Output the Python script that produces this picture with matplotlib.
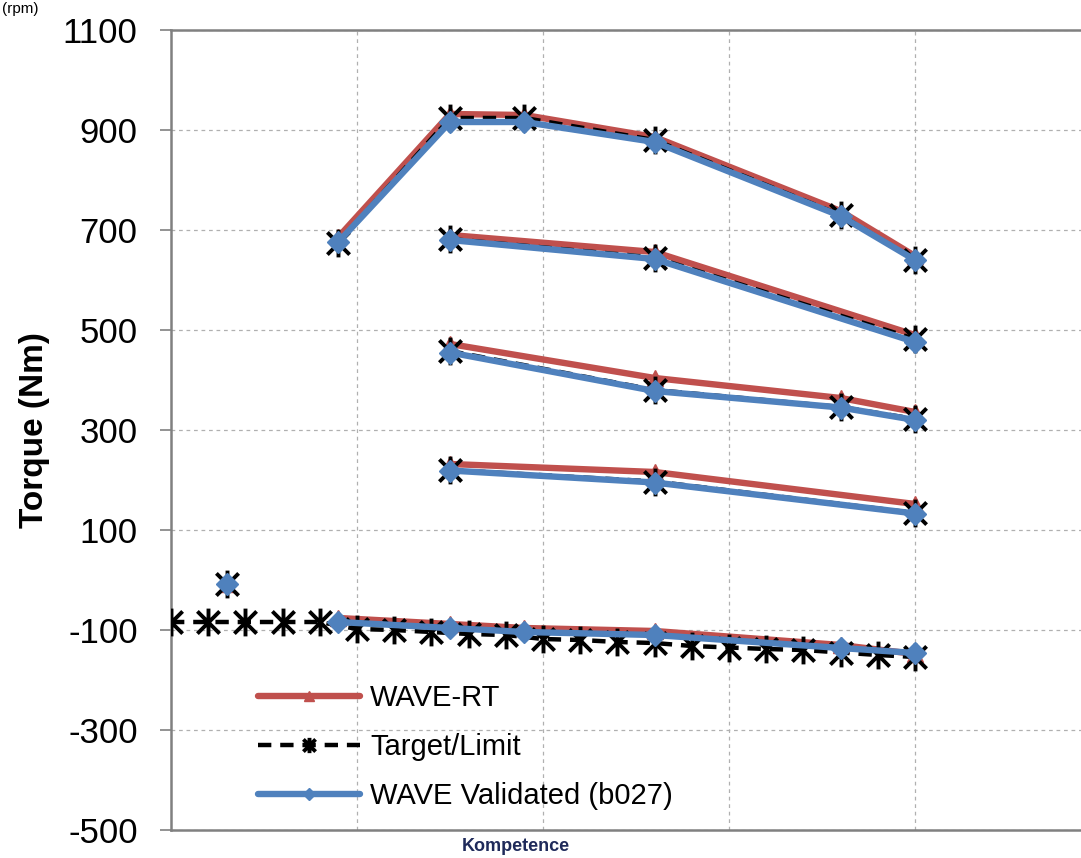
import matplotlib
matplotlib.use("Agg")
import matplotlib.pyplot as plt
from matplotlib.path import Path

plt.rcParams['font.family'] = ['Liberation Sans', 'DejaVu Sans']
plt.rcParams['axes.unicode_minus'] = False

# full load
rpm_full = [900, 1500, 1900, 2600, 3600, 4000]
rt_full = [686, 932, 930, 886, 738, 648]
tgt_full = [675, 924, 924, 880, 730, 640]
val_full = [676, 916, 916, 876, 728, 640]

# part load curves
rpm_p2 = [1500, 2600, 4000]
rt_p2 = [690, 656, 490]
tgt_p2 = [682, 645, 482]
val_p2 = [680, 642, 476]

rpm_p3 = [1500, 2600, 3600, 4000]
rt_p3 = [472, 404, 364, 336]
tgt_p3 = [458, 380, 346, 322]
val_p3 = [455, 378, 345, 320]

rpm_p4 = [1500, 2600, 4000]
rt_p4 = [232, 216, 152]
tgt_p4 = [220, 197, 134]
val_p4 = [219, 195, 133]

# motoring
rpm_mot = [900, 1500, 1900, 2600, 3600, 4000]
rt_mot = [-76, -88, -96, -102, -130, -148]
val_mot = [-84, -96, -104, -110, -136, -146]

rpm_tgt_mot = [0, 200, 400, 600, 800, 1000, 1200, 1400, 1600, 1800, 2000,
               2200, 2400, 2600, 2800, 3000, 3200, 3400, 3600, 3800, 4000]
tgt_mot = [-84, -84, -84, -84, -84, -98, -100, -104, -108, -110, -118,
           -120, -124, -126, -132, -135, -138, -140, -145, -150, -154]

# single point at low speed
rpm_idle = [300]
rt_idle = [-8]
tgt_idle = [-8]
val_idle = [-8]

yticks = [-500, -300, -100, 100, 300, 500, 700, 900, 1100]
xgrid = [1000, 2000, 3000, 4000]

RED = '#C0504D'
BLUE = '#4F81BD'

# excel style star: x plus vertical bar
star = Path([(-1, -1), (1, 1), (-1, 1), (1, -1), (0, -1.25), (0, 1.25)],
            [Path.MOVETO, Path.LINETO, Path.MOVETO, Path.LINETO,
             Path.MOVETO, Path.LINETO])

fig = plt.figure(figsize=(10.81, 8.58), dpi=100)
ax = fig.add_axes([171 / 1081, 28 / 858, 930 / 1081, 800 / 858])

rt_sets = [(rpm_full, rt_full), (rpm_p2, rt_p2), (rpm_p3, rt_p3),
           (rpm_p4, rt_p4), (rpm_mot, rt_mot), (rpm_idle, rt_idle)]
tgt_sets = [(rpm_full, tgt_full), (rpm_p2, tgt_p2), (rpm_p3, tgt_p3),
            (rpm_p4, tgt_p4), (rpm_tgt_mot, tgt_mot), (rpm_idle, tgt_idle)]
val_sets = [(rpm_full, val_full), (rpm_p2, val_p2), (rpm_p3, val_p3),
            (rpm_p4, val_p4), (rpm_mot, val_mot), (rpm_idle, val_idle)]

for i, (x, y) in enumerate(rt_sets):
    ax.plot(x, y, color=RED, lw=4.6, marker='^', ms=12, zorder=3,
            solid_capstyle='round', label='WAVE-RT' if i == 0 else None)
for i, (x, y) in enumerate(tgt_sets):
    ax.plot(x, y, color='black', lw=3.2, ls=(0, (3, 2)), marker=star, ms=20,
            mew=2.8, zorder=4, label='Target/Limit' if i == 0 else None)
for i, (x, y) in enumerate(val_sets):
    ax.plot(x, y, color=BLUE, lw=4.6, marker='D', ms=11, zorder=5,
            solid_capstyle='round',
            label='WAVE Validated (b027)' if i == 0 else None)

ax.set_xlim(0, 5000)
ax.set_ylim(-500, 1100)
ax.set_yticks(yticks)
ax.set_xticks(xgrid)
ax.tick_params(axis='x', length=0, labelbottom=False)
ax.tick_params(axis='y', direction='out', length=8, width=1.2,
               color='#808080', labelsize=25, pad=16)
ax.grid(True, color='#b0b0b0', ls=(0, (3, 3)), lw=0.9)
ax.set_axisbelow(True)
for s in ['left', 'bottom', 'top', 'right']:
    ax.spines[s].set_color('#808080')
    ax.spines[s].set_linewidth(1.8)

ax.set_ylabel('Torque (Nm)', fontsize=24, fontweight='bold')
ax.yaxis.set_label_coords(-0.130, 0.5)

leg = ax.legend(loc='lower left', bbox_to_anchor=(0.0935, 0.025),
                frameon=False, fontsize=21, handlelength=3.5,
                handletextpad=0.35, labelspacing=0.72, markerscale=0.55,
                borderpad=0, borderaxespad=0)

fig.text(2 / 1081, 1 - 2 / 858, '(rpm)', ha='left', va='top', fontsize=11)
fig.text(462 / 1081, 3 / 858, 'Kompetence', ha='left', va='bottom',
         fontsize=13, fontweight='bold', color='#1f2a5a')

fig.savefig('out.png', dpi=100)
